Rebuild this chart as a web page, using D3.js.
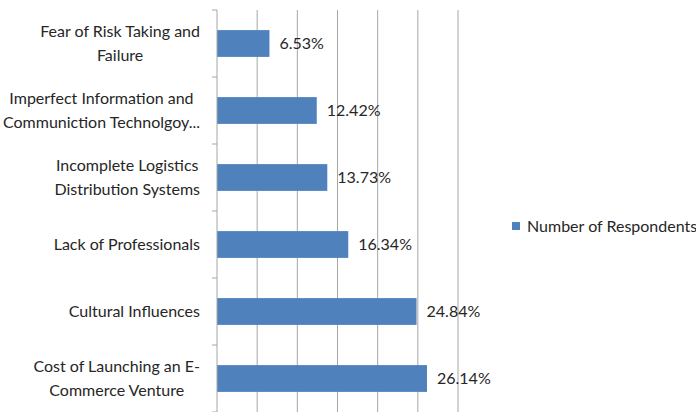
<!DOCTYPE html>
<html><head><meta charset="utf-8">
<script src="https://cdn.jsdelivr.net/npm/d3@7"></script>
<style>body{margin:0;background:#fff;} svg{display:block;}</style>
</head><body>
<svg id="c" width="696" height="412"></svg>
<script>
const categories = [
  ["Fear of Risk Taking and", "Failure"],
  ["Imperfect Information and", "Communiction Technolgoy..."],
  ["Incomplete Logistics", "Distribution Systems"],
  ["Lack of Professionals"],
  ["Cultural Influences"],
  ["Cost of Launching an E-", "Commerce Venture"]
];
const values = [6.53, 12.42, 13.73, 16.34, 24.84, 26.14];
const valueLabels = ["6.53%", "12.42%", "13.73%", "16.34%", "24.84%", "26.14%"];
const xTicks = [0, 5, 10, 15, 20, 25, 30];
const seriesName = "Number of Respondents";

(function () {
const svg = d3.select("#c");
const mLeft = 217, mRight = 458, mTop = 10, mBottom = 412;
const font = "Lato, 'Open Sans', sans-serif";
const fs = 16, tc = "#262626";
const x = d3.scaleLinear().domain([0, 30]).range([mLeft, mRight]);
const y = d3.scaleBand().domain(d3.range(categories.length)).range([mTop, mBottom]).paddingInner(0.6).paddingOuter(0.3);
const yb = d3.scaleBand().domain(d3.range(categories.length)).range([mTop, mBottom]);

// gridlines
svg.append("g").selectAll("line").data(xTicks.slice(1)).join("line")
  .attr("x1", d => x(d)).attr("x2", d => x(d)).attr("y1", mTop).attr("y2", mBottom)
  .attr("stroke", "#a6a6a6").attr("stroke-width", 1);

// bars
svg.append("g").selectAll("rect").data(values).join("rect")
  .attr("x", x(0)).attr("y", (d, i) => y(i)).attr("width", d => x(d) - x(0)).attr("height", y.bandwidth())
  .attr("fill", "#4f81bd");

// left axis
const ax = svg.append("g");
ax.append("line").attr("x1", mLeft).attr("x2", mLeft).attr("y1", mTop).attr("y2", mBottom).attr("stroke", "#a6a6a6");
ax.selectAll("line.t").data(d3.range(categories.length + 1)).join("line").attr("class", "t")
  .attr("x1", mLeft - 5).attr("x2", mLeft).attr("y1", i => mTop + i * yb.step()).attr("y2", i => mTop + i * yb.step())
  .attr("stroke", "#a6a6a6");

// category labels: block right-aligned at x=200, lines centred within block
categories.forEach((lines, i) => {
  const cy = yb(i) + yb.bandwidth() / 2;
  const lh = 24;
  const t = svg.append("text").attr("text-anchor", "middle").attr("font-family", font).attr("font-size", fs).attr("fill", tc);
  const spans = lines.map((l, j) =>
    t.append("tspan").attr("y", cy + (j - (lines.length - 1) / 2) * lh).attr("dy", "0.35em").text(l));
  const w = d3.max(spans, s => s.node().getComputedTextLength());
  spans.forEach(s => s.attr("x", 200 - w / 2));
});

// value labels
svg.append("g").selectAll("text").data(values).join("text")
  .attr("x", d => x(d) + 10).attr("y", (d, i) => y(i) + y.bandwidth() / 2).attr("dy", "0.35em")
  .attr("font-family", font).attr("font-size", fs).attr("fill", tc)
  .text((d, i) => valueLabels[i]);

// legend
const lg = svg.append("g").attr("transform", "translate(512,226)");
lg.append("rect").attr("x", 0).attr("y", -4).attr("width", 8).attr("height", 8).attr("fill", "#4f81bd");
lg.append("text").attr("x", 15).attr("y", 0).attr("dy", "0.35em").attr("font-family", font).attr("font-size", fs).attr("fill", tc).text(seriesName);
})();
</script>
</body></html>
